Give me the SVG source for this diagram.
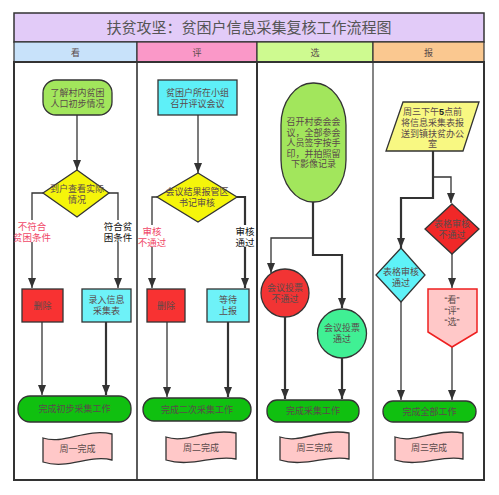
<svg xmlns="http://www.w3.org/2000/svg" width="499" height="495" viewBox="0 0 499 495">
<style>
.t{font-family:"Liberation Sans","Noto Sans CJK SC",sans-serif;font-size:9px;fill:#5a4a4a;text-anchor:middle}
.lb{font-family:"Liberation Sans","Noto Sans CJK SC",sans-serif;font-size:9.5px;text-anchor:middle}
.n{stroke:#333;stroke-width:1.3}
.c{fill:none;stroke:#333;stroke-width:1.3}
.k{fill:none;stroke:#333;stroke-width:2.2}
.g{fill:#10c010}
.w{fill:#ffc8c8}
</style>
<defs>
<marker id="a" viewBox="0 0 10 8" refX="10" refY="4" markerWidth="10" markerHeight="8" orient="auto" markerUnits="userSpaceOnUse"><path d="M0,0 L10,4 L0,8 z" fill="#333"/></marker>
</defs>
<g id="frame">
<rect x="14" y="13" width="470" height="29" fill="#e2cbf8" stroke="#333" stroke-width="1.5"/>
<text x="249" y="33" style="font-family:'Liberation Sans','Noto Sans CJK SC',sans-serif;font-size:15px;fill:#555;text-anchor:middle">扶贫攻坚：贫困户信息采集复核工作流程图</text>
<rect x="14" y="42" width="123" height="20" fill="#c8e2fa" stroke="#333" stroke-width="1.2"/>
<rect x="137" y="42" width="120" height="20" fill="#fa98c8" stroke="#333" stroke-width="1.2"/>
<rect x="257" y="42" width="116" height="20" fill="#cefa90" stroke="#333" stroke-width="1.2"/>
<rect x="373" y="42" width="111" height="20" fill="#fac890" stroke="#333" stroke-width="1.2"/>
<text class="t" x="75.5" y="55.5">看</text>
<text class="t" x="197" y="55.5">评</text>
<text class="t" x="315" y="55.5">选</text>
<text class="t" x="428.5" y="55.5">报</text>
<rect x="14" y="62" width="470" height="418" fill="#fff" stroke="#333" stroke-width="2"/>
<line x1="137" y1="62" x2="137" y2="480" stroke="#333" stroke-width="1.6"/>
<line x1="257" y1="62" x2="257" y2="480" stroke="#333" stroke-width="2"/>
<line x1="373" y1="62" x2="373" y2="480" stroke="#333" stroke-width="1.2"/>
</g>
<g id="connectors">
<path class="c" d="M77,115 V170" marker-end="url(#a)"/>
<path class="c" d="M43,193 H32 V288" marker-end="url(#a)"/>
<path class="c" d="M109,193 H118 V288" marker-end="url(#a)"/>
<path class="c" d="M42,322 V395" marker-end="url(#a)"/>
<path class="k" d="M106,322 V395" marker-end="url(#a)"/>
<path class="c" d="M198,115 V173" marker-end="url(#a)"/>
<path class="c" d="M157,197 H152 V288" marker-end="url(#a)"/>
<path class="k" d="M237,197 H245 V288" marker-end="url(#a)"/>
<path class="c" d="M167,322 V397" marker-end="url(#a)"/>
<path class="k" d="M228,322 V397" marker-end="url(#a)"/>
<path class="k" d="M313,202 V255 H342 V308" marker-end="url(#a)"/>
<path class="c" d="M313,238 H271 V273" marker-end="url(#a)"/>
<path class="k" d="M285,317 V399" marker-end="url(#a)"/>
<path class="k" d="M342,358 V399" marker-end="url(#a)"/>
<path class="k" d="M433,151 V198 H401 V248" marker-end="url(#a)"/>
<path class="c" d="M433,177 H451 V203" marker-end="url(#a)"/>
<path class="c" d="M452,254 V288" marker-end="url(#a)"/>
<path class="c" d="M401,302 V400" marker-end="url(#a)"/>
<path class="c" d="M452,347 V400" marker-end="url(#a)"/>
</g>
<g id="labels">
<rect x="18" y="220" width="28" height="22" fill="#fff"/>
<text class="lb" x="32" y="230" fill="#f04868">不符合</text>
<text class="lb" x="32" y="241" fill="#f04868">贫困条件</text>
<rect x="104" y="220" width="28" height="22" fill="#fff"/>
<text class="lb" x="118" y="230" fill="#111">符合贫</text>
<text class="lb" x="118" y="241" fill="#111">困条件</text>
<rect x="139" y="225" width="27" height="22" fill="#fff"/>
<text class="lb" x="152" y="235" fill="#f04868">审核</text>
<text class="lb" x="152" y="246" fill="#f04868">不通过</text>
<rect x="235" y="225" width="20" height="22" fill="#fff"/>
<text class="lb" x="245" y="235" fill="#111">审核</text>
<text class="lb" x="245" y="246" fill="#111">通过</text>
</g>
<g id="n1"><rect class="n" x="43" y="80" width="69" height="35" rx="13" fill="#a2e65c"/><text class="t" x="77.5" y="96">了解村内贫困</text><text class="t" x="77.5" y="107">人口初步情况</text></g>
<g id="n2"><polygon class="n" points="77,170 109,193 77,217 43,193" fill="#f5f50a"/><text class="t" x="77" y="192">到户查看实际</text><text class="t" x="77" y="203">情况</text></g>
<g id="n3"><rect class="n" x="22" y="289" width="41" height="33" fill="#f83232"/><text class="t" x="42.5" y="309">删除</text></g>
<g id="n4"><rect class="n" x="82" y="289" width="49" height="33" fill="#6ef2f8"/><text class="t" x="106.5" y="303">录入信息</text><text class="t" x="106.5" y="314">采集表</text></g>
<g id="n5"><rect class="n g" x="18" y="396" width="113" height="26" rx="12"/><text class="t" x="74.5" y="412">完成初步采集工作</text></g>
<g id="n6"><path class="n w" d="M43,438 C64,445 85,428 112,434 L112,460 C90,454 68,470 43,462 Z"/><text class="t" x="77.5" y="452">周一完成</text></g>
<g id="n7"><rect class="n" x="158" y="80" width="79" height="35" fill="#5ef0f8"/><text class="t" x="197.5" y="96">贫困户所在小组</text><text class="t" x="197.5" y="107">召开评议会议</text></g>
<g id="n8"><polygon class="n" points="198,173 237,197 198,222 157,197" fill="#f5f50a"/><text class="t" x="197" y="195">会议结果报管区</text><text class="t" x="197" y="206">书记审核</text></g>
<g id="n9"><rect class="n" x="147" y="289" width="38" height="33" fill="#f83232"/><text class="t" x="166" y="309">删除</text></g>
<g id="n10"><rect class="n" x="207" y="289" width="42" height="33" fill="#6ef2f8"/><text class="t" x="228" y="303">等待</text><text class="t" x="228" y="314">上报</text></g>
<g id="n11"><rect class="n g" x="143" y="398" width="108" height="23" rx="11"/><text class="t" x="197" y="413">完成二次采集工作</text></g>
<g id="n12"><path class="n w" d="M166,437 C186,444 206,428 236,433 L236,459 C214,454 192,468 166,460 Z"/><text class="t" x="201" y="451">周二完成</text></g>
<g id="n13"><rect class="n" x="281" y="83" width="65" height="119" rx="32" ry="42" fill="#a2e65c"/><text class="t" x="313.5" y="125">召开村委会会</text><text class="t" x="313.5" y="135.5">议，全部参会</text><text class="t" x="313.5" y="146">人员签字按手</text><text class="t" x="313.5" y="156.5">印，并拍照留</text><text class="t" x="313.5" y="167">下影像记录</text></g>
<g id="n14"><circle class="n" cx="285" cy="293" r="24" fill="#f23434"/><text class="t" x="285" y="291">会议投票</text><text class="t" x="285" y="302">不通过</text></g>
<g id="n15"><circle class="n" cx="342" cy="333.5" r="24.5" fill="#40f094"/><text class="t" x="342" y="331">会议投票</text><text class="t" x="342" y="342">通过</text></g>
<g id="n16"><rect class="n g" x="267" y="400" width="92" height="22" rx="10"/><text class="t" x="313" y="414">完成采集工作</text></g>
<g id="n17"><path class="n w" d="M280,437 C300,444 320,428 349,433 L349,459 C328,454 305,468 280,460 Z"/><text class="t" x="314.5" y="451">周三完成</text></g>
<g id="n18"><polygon class="n" points="403,102 479,102 463,151 386,151" fill="#f8f882"/><text class="t" x="432.5" y="115">周三下午<tspan style="font-weight:bold;fill:#222">5</tspan>点前</text><text class="t" x="432.5" y="126">将信息采集表报</text><text class="t" x="432.5" y="136.5">送到镇扶贫办公</text><text class="t" x="432.5" y="147">室</text></g>
<g id="n19"><polygon class="n" points="452,204 479,229 452,254 425,229" fill="#f02828"/><text class="t" x="452" y="227">表格审核</text><text class="t" x="452" y="238">不通过</text></g>
<g id="n20"><polygon class="n" points="401,248 425,275 401,302 376,275" fill="#5ef2f8"/><text class="t" x="401" y="275">表格审核</text><text class="t" x="401" y="286">通过</text></g>
<g id="n21"><polygon points="428,289 477,289 477,332 452,347 428,332" fill="#ffc8c8" stroke="#ee2020" stroke-width="1.5"/><text class="t" x="452" y="303">“看”</text><text class="t" x="452" y="314">“评”</text><text class="t" x="452" y="325">“选”</text></g>
<g id="n22"><rect class="n g" x="383" y="401" width="93" height="21" rx="10"/><text class="t" x="429.5" y="415">完成全部工作</text></g>
<g id="n23"><path class="n w" d="M395,437 C415,444 435,428 463,433 L463,459 C442,454 420,468 395,460 Z"/><text class="t" x="429" y="451">周三完成</text></g>
</svg>
